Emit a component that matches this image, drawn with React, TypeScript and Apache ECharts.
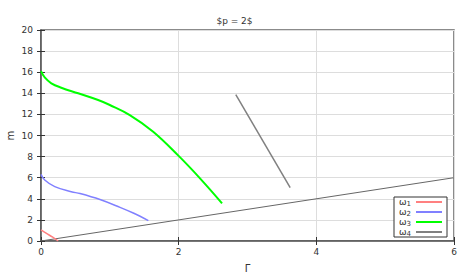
import React, { useEffect, useRef } from "react";
import * as echarts from "echarts";

const w1G = [0, 0.08, 0.17, 0.25];
const w1M = [1.05, 0.72, 0.36, 0.0];

const w2G = [0, 0.054, 0.2, 0.44, 0.567, 0.857, 1.148, 1.34, 1.56];
const w2M = [6.32, 5.78, 5.15, 4.67, 4.5, 3.93, 3.19, 2.65, 1.93];

const w3G = [0, 0.054, 0.15, 0.295, 0.54, 0.83, 1.0, 1.29, 1.63, 1.996, 2.31, 2.63];
const w3M = [16.1, 15.5, 14.95, 14.53, 14.0, 13.36, 12.89, 11.94, 10.36, 8.09, 5.94, 3.57];

const w4G = [2.83, 3.62];
const w4M = [13.87, 5.05];

const diagG = [0, 6];
const diagM = [0, 6];

const names = ["ω1", "ω2", "ω3", "ω4"];
const colors = ["#ff8080", "#8080ff", "#00ff00", "#808080"];

const zip = (a: number[], b: number[]) => a.map((v, i) => [v, b[i]]);

export default function App() {
  const ref = useRef<HTMLDivElement>(null);
  useEffect(() => {
    const chart = echarts.init(ref.current!, undefined, { renderer: "svg" });
    const font = "DejaVu Sans";
    const axisLabel = { fontFamily: font, fontSize: 9, color: "#333" };
    chart.setOption({
      animation: false,
      title: {
        text: "$p = 2$",
        left: "center",
        top: 11,
        textStyle: { fontFamily: font, fontSize: 9, fontWeight: "normal", color: "#333" },
      },
      grid: {
        left: 41,
        right: 15,
        top: 30,
        bottom: 32,
        outerBoundsMode: "none",
        containLabel: false,
        show: true,
        borderColor: "#666",
        borderWidth: 1.5,
      },
      legend: {
        orient: "vertical",
        right: 22,
        bottom: 36,
        align: "right",
        itemWidth: 26,
        itemHeight: 2,
        itemGap: 0,
        padding: [0, 5, 0, 5],
        borderColor: "#333",
        borderWidth: 1,
        backgroundColor: "#fff",
        formatter: (n: string) => `{w|ω}{s|${n.slice(1)}}`,
        textStyle: {
          fontFamily: font,
          fontSize: 9,
          lineHeight: 10,
          color: "#333",
          rich: {
            w: { fontFamily: font, fontSize: 9, color: "#333", lineHeight: 10 },
            s: { fontFamily: font, fontSize: 7, color: "#333", lineHeight: 7, padding: [3, 0, 0, 0] },
          },
        },
        data: names.map((n) => ({ name: n, icon: "rect" })),
      },
      xAxis: [
        {
          type: "value",
          min: 0,
          max: 6,
          interval: 2,
          name: "Γ",
          nameLocation: "middle",
          nameGap: 22,
          nameMoveOverlap: false,
          nameTextStyle: { fontFamily: font, fontSize: 10, color: "#333" },
          axisLine: { show: true, lineStyle: { color: "#555", width: 1.5 } },
          axisTick: { show: true, inside: true, length: 4, lineStyle: { color: "#333" } },
          axisLabel: { ...axisLabel, margin: 6 },
          splitLine: { show: true, lineStyle: { color: "#ddd", width: 1 } },
        },
        {
          type: "value",
          position: "top",
          min: 0,
          max: 6,
          interval: 2,
          axisLine: { show: false },
          axisTick: { show: true, inside: true, length: 4, lineStyle: { color: "#333" } },
          axisLabel: { show: false },
          splitLine: { show: false },
        },
      ],
      yAxis: [
        {
          type: "value",
          min: 0,
          max: 20,
          interval: 2,
          name: "m",
          nameLocation: "middle",
          nameGap: 26,
          nameMoveOverlap: false,
          nameTextStyle: { fontFamily: font, fontSize: 10, color: "#333" },
          axisLine: { show: true, lineStyle: { color: "#555", width: 1.5 } },
          axisTick: { show: true, inside: true, length: 4, lineStyle: { color: "#333" } },
          axisLabel: { ...axisLabel, margin: 8 },
          splitLine: { show: true, lineStyle: { color: "#ddd", width: 1 } },
        },
        {
          type: "value",
          position: "right",
          min: 0,
          max: 20,
          interval: 2,
          axisLine: { show: false },
          axisTick: { show: true, inside: true, length: 4, lineStyle: { color: "#333" } },
          axisLabel: { show: false },
          splitLine: { show: false },
        },
      ],
      series: [
        {
          name: names[0],
          type: "line",
          data: zip(w1G, w1M),
          smooth: 0.4,
          showSymbol: false,
          lineStyle: { color: colors[0], width: 1.5 },
          itemStyle: { color: colors[0] },
        },
        {
          name: names[1],
          type: "line",
          data: zip(w2G, w2M),
          smooth: 0.4,
          showSymbol: false,
          lineStyle: { color: colors[1], width: 1.5 },
          itemStyle: { color: colors[1] },
        },
        {
          name: names[2],
          type: "line",
          data: zip(w3G, w3M),
          smooth: 0.4,
          showSymbol: false,
          lineStyle: { color: colors[2], width: 2 },
          itemStyle: { color: colors[2] },
        },
        {
          name: names[3],
          type: "line",
          data: zip(w4G, w4M),
          showSymbol: false,
          lineStyle: { color: colors[3], width: 1.5 },
          itemStyle: { color: colors[3] },
        },
        {
          name: "diag",
          type: "line",
          data: zip(diagG, diagM),
          showSymbol: false,
          lineStyle: { color: "#666", width: 1 },
          itemStyle: { color: "#666" },
          z: 1,
        },
      ],
    });
    return () => chart.dispose();
  }, []);
  return <div ref={ref} style={{ width: 469, height: 273, position: "absolute", left: 0, top: 0 }} />;
}
